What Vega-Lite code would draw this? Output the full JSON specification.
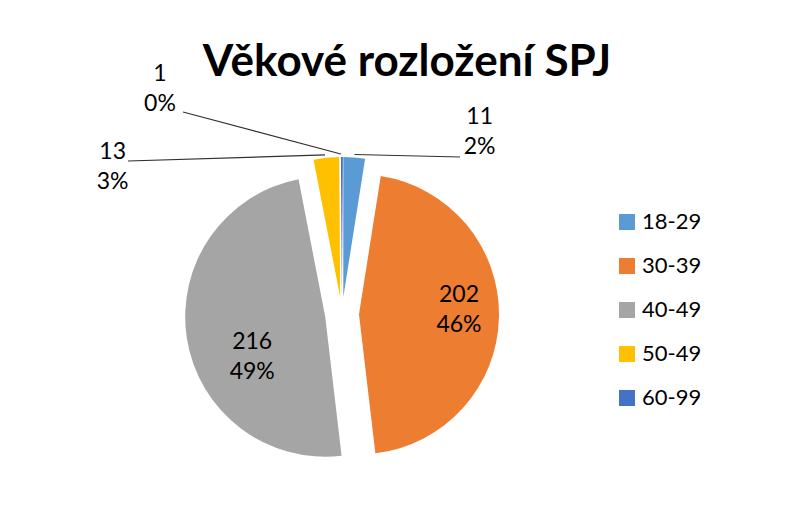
{
  "$schema": "https://vega.github.io/schema/vega-lite/v6.json",
  "width": 320,
  "height": 320,
  "autosize": "none",
  "padding": {"left": 182, "top": 154, "right": 285, "bottom": 53},
  "background": "white",
  "config": {"view": {"stroke": null}, "font": "Lato"},
  "title": {"text": "Věkové rozložení SPJ", "font": "Lato", "fontSize": 44, "fontWeight": "bold", "color": "#000000", "anchor": "middle", "frame": "group", "dx": 65, "dy": 16, "offset": -6},
  "data": {"values": [
    {"vek": "18-29", "pocet": 11},
    {"vek": "30-39", "pocet": 202},
    {"vek": "40-49", "pocet": 216},
    {"vek": "50-49", "pocet": 13},
    {"vek": "60-99", "pocet": 1}
  ]},
  "transform": [
    {"joinaggregate": [{"op": "sum", "field": "pocet", "as": "celkem"}]},
    {"stack": "pocet", "groupby": [], "sort": [{"field": "vek", "order": "ascending"}], "as": ["v0", "v1"]},
    {"calculate": "(datum.v0 + datum.v1) / 2", "as": "stred"},
    {"calculate": "indexof(['18-29','30-39','40-49','50-49','60-99'], datum.vek)", "as": "i"},
    {"calculate": "[format(datum.pocet, 'd'), format(datum.pocet / datum.celkem, '.0%')]", "as": "stitek"}
  ],
  "layer": [
    {
      "mark": {
        "type": "arc",
        "outerRadius": 140,
        "xOffset": {"expr": "17*sin(2*PI*datum.stred/datum.celkem)"},
        "yOffset": {"expr": "-17*cos(2*PI*datum.stred/datum.celkem)"}
      },
      "encoding": {
        "theta": {"field": "v0", "type": "quantitative", "stack": null, "scale": {"zero": true, "nice": false}},
        "theta2": {"field": "v1"},
        "color": {
          "field": "vek",
          "type": "nominal",
          "scale": {"domain": ["18-29", "30-39", "40-49", "50-49", "60-99"], "range": ["#5B9BD5", "#ED7D31", "#A5A5A5", "#FFC000", "#4472C4"]},
          "legend": {
            "title": null,
            "orient": "none",
            "legendX": 434,
            "legendY": 57,
            "labelFont": "Lato",
            "labelFontSize": 22,
            "labelColor": "#000000",
            "symbolType": "square",
            "symbolSize": 256,
            "symbolStrokeWidth": 0,
            "rowPadding": 22,
            "labelOffset": 4
          }
        }
      }
    },
    {
      "transform": [{"filter": "datum.pocet < 100"}],
      "mark": {"type": "rule", "color": "#303030", "strokeWidth": 1.2},
      "encoding": {
        "x": {"value": {"expr": "width/2 + 160*sin(2*PI*datum.stred/datum.celkem)"}},
        "y": {"value": {"expr": "height/2 - 160*cos(2*PI*datum.stred/datum.celkem)"}},
        "x2": {"value": {"expr": "width/2 + [118, 0, 0, -214, -159][datum.i]"}},
        "y2": {"value": {"expr": "height/2 + [-157, 0, 0, -153, -202][datum.i]"}}
      }
    },
    {
      "mark": {
        "type": "text",
        "font": "Lato",
        "fontSize": 23,
        "color": "#000000",
        "align": "center",
        "baseline": "middle",
        "lineHeight": 30,
        "radius": {"expr": "[175, 117, 100, 175, 175][datum.i]"},
        "dx": {"expr": "[124, 0, 9, -212, -182][datum.i]"},
        "dy": {"expr": "[-23, -21, 13, 12, -65][datum.i]"}
      },
      "encoding": {
        "theta": {"field": "stred", "type": "quantitative", "stack": null, "scale": {"zero": true, "nice": false}},
        "text": {"field": "stitek"}
      }
    }
  ]
}
